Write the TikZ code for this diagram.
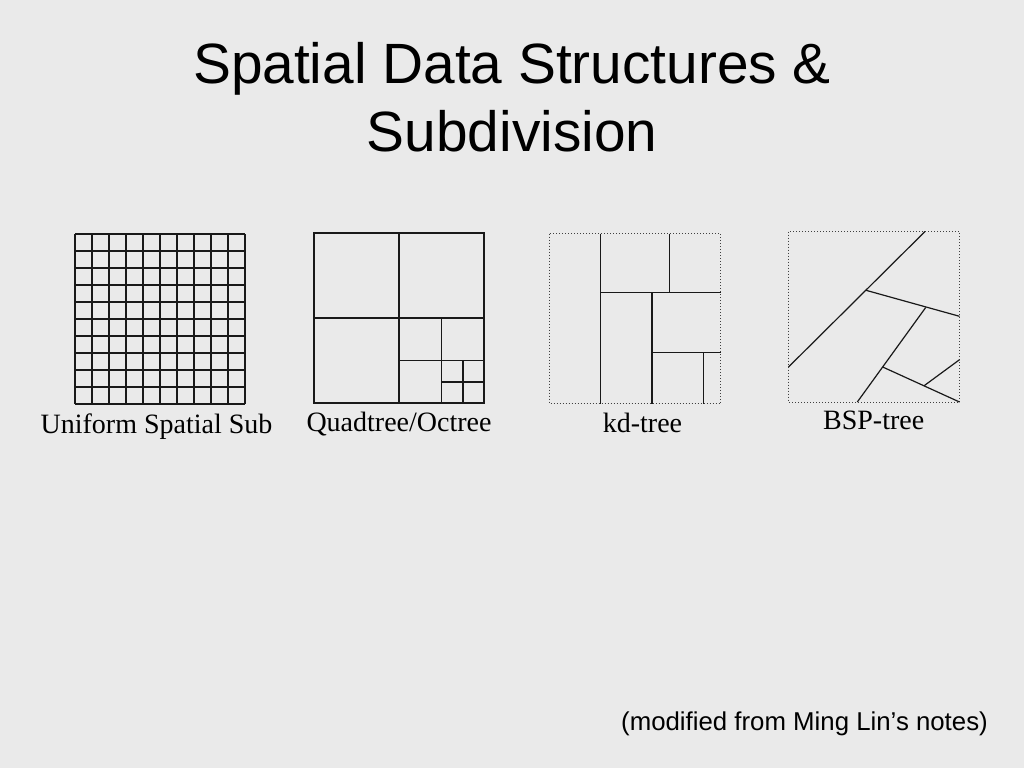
\documentclass[tikz,border=0pt]{standalone}
\usepackage{fontspec}
\setmainfont{Liberation Serif}
\newfontfamily\arialf{Liberation Sans}
\definecolor{bg}{HTML}{EAEAEA}
\begin{document}
\begin{tikzpicture}[x=1pt,y=-1pt,
  line/.style={line width=1.2pt, black!90},
  dotbox/.style={line width=1pt, dotted, black!75},
  ttl/.style={font=\arialf\fontsize{56.8}{67}\selectfont, anchor=base, inner sep=0pt},
  lbl/.style={font=\fontsize{28}{32}\selectfont, anchor=base, inner sep=0pt},
  foot/.style={font=\arialf\fontsize{25.8}{30}\selectfont, anchor=base east, inner sep=0pt}]
\fill[bg] (0,0) rectangle (1024,768);
\useasboundingbox (0,0) rectangle (1024,768);

% Title
\node[ttl] (t1) at (512,83) {Spatial Data Structures \&};
\node[ttl] (t2) at (512,151) {Subdivision};

% Uniform grid
\foreach \i in {0,...,10} {
  \draw[line] (75+17*\i,234) -- (75+17*\i,404);
  \draw[line] (75,234+17*\i) -- (245,234+17*\i);
}
\node[lbl] (l1) at (156.5,433) {Uniform Spatial Sub};

% Quadtree
\draw[line] (314,233) rectangle (484,403);
\draw[line width=1.5pt, black!90] (314,233) rectangle (399,318);
\draw[line] (399,233) -- (399,403);
\draw[line] (314,318) -- (484,318);
\draw[line] (441.5,318) -- (441.5,403);
\draw[line] (399,360.5) -- (484,360.5);
\draw[line] (463,360.5) -- (463,403);
\draw[line] (441.5,382) -- (484,382);
\node[lbl] (l2) at (399,431) {Quadtree/Octree};

% kd-tree
\draw[dotbox] (549.5,233.5) rectangle (720.5,403.5);
\draw[line] (600.7,233.5) -- (600.7,403.5);
\draw[line] (600.7,292.7) -- (720.5,292.7);
\draw[line] (669.3,233.5) -- (669.3,292.7);
\draw[line] (652,292.7) -- (652,403.5);
\draw[line] (652,352.7) -- (720.5,352.7);
\draw[line] (703.3,352.7) -- (703.3,403.5);
\node[lbl] (l3) at (642.5,432.3) {kd-tree};

% BSP-tree
\draw[dotbox] (788.5,231.5) rectangle (959.5,402);
\coordinate (b1a) at (788.5,367);
\coordinate (b1b) at (925,231.5);
\coordinate (b2a) at (866,290.3);
\coordinate (b2b) at (959.5,316.3);
\coordinate (b3a) at (925.7,307.5);
\coordinate (b3b) at (857.3,402);
\coordinate (b4a) at (882.7,367);
\coordinate (b4b) at (959.5,402);
\coordinate (b5a) at (924,385.8);
\coordinate (b5b) at (959.5,359.7);
\draw[line] (b1a) -- (b1b);
\draw[line] (b2a) -- (b2b);
\draw[line] (b3a) -- (b3b);
\draw[line] (b4a) -- (b4b);
\draw[line] (b5a) -- (b5b);
\node[lbl] (l4) at (873.7,429.3) {BSP-tree};

% Footer
\node[foot] (fn) at (988,730) {(modified from Ming Lin’s notes)};
\end{tikzpicture}
\end{document}
